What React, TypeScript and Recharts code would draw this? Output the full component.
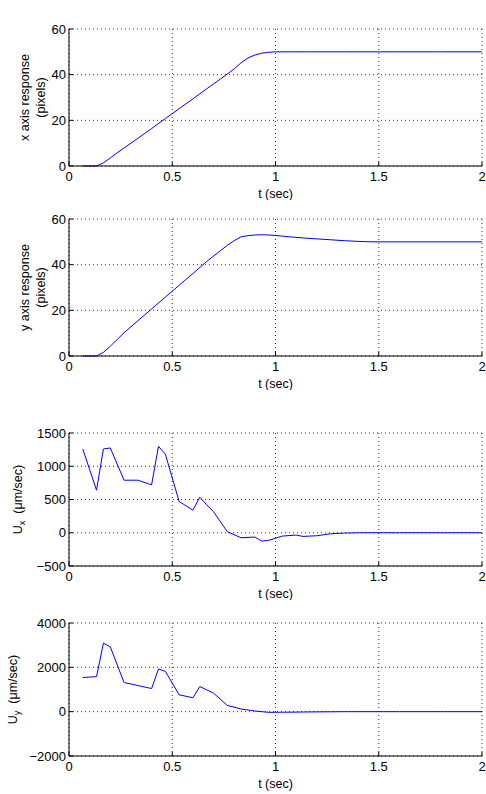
import { ReactNode } from 'react';
import { CartesianGrid, Label, Line, LineChart, XAxis, YAxis } from 'recharts';

const timeTicks = [0, 0.5, 1, 1.5, 2];
const positionTicks = [0, 20, 40, 60];
const uxTicks = [-500, 0, 500, 1000, 1500];
const uyTicks = [-2000, 0, 2000, 4000];

// step response of the stage, pixels
const positionTime = [0.0667, 0.1333, 0.1667, 0.2, 0.2333, 0.2667, 0.3333, 0.4, 0.4667, 0.5333,
  0.6, 0.6667, 0.7333, 0.7667, 0.8, 0.8333, 0.8667, 0.9, 0.9333, 0.9667,
  1.0, 1.0667, 1.1333, 1.2, 1.2667, 1.3333, 1.4, 1.4667, 1.6, 1.8, 2.0];
const xResponse = [0, 0, 1.4, 3.5, 5.8, 7.9, 12.1, 16.4, 20.8, 25.1,
  29.4, 33.8, 38.1, 40.3, 42.5, 45.2, 47.3, 48.6, 49.4, 49.8,
  50, 50, 50, 50, 50, 50, 50, 50, 50, 50, 50];
const yResponse = [0, 0, 1.6, 4.3, 7.2, 10.2, 15.4, 20.6, 25.8, 31.0,
  36.1, 41.4, 46.1, 48.5, 50.5, 52.2, 52.7, 53.0, 53.1, 53.0,
  52.8, 52.2, 51.7, 51.3, 50.9, 50.5, 50.2, 50.0, 50, 50, 50];

// control signals, um/sec
const controlTime = [0.0667, 0.1333, 0.1667, 0.2, 0.2667, 0.3333, 0.4, 0.4333, 0.4667, 0.5333,
  0.6, 0.6333, 0.6667, 0.7, 0.7667, 0.8333, 0.9, 0.9333, 0.9667, 1.0333,
  1.1, 1.1333, 1.2, 1.2667, 1.3333, 1.4, 1.6, 1.8, 2.0];
const uxSignal = [1260, 640, 1260, 1275, 790, 790, 720, 1300, 1180, 470,
  340, 535, 420, 316, 15, -75, -65, -125, -115, -50,
  -35, -55, -45, -15, -5, 0, 0, 0, 0];
const uySignal = [1540, 1580, 3090, 2925, 1312, 1180, 1043, 1925, 1820, 760,
  627, 1133, 985, 835, 282, 120, 30, 0, -30, -25,
  -20, -15, -10, -5, 0, 0, 0, 0, 0];

const FONT = '"Liberation Sans", Arial, Helvetica, sans-serif';
const FS = 12.5;
const TICK_FS = 13;
const PLOT_LEFT = 69;
const PLOT_RIGHT = 482;
const W = 486;

const rows = (t: number[], v: number[]) => t.map((x, i) => ({ t: x, v: v[i] }));
const minus = (v: number) => String(v).replace('-', '\u2212');
const blank = () => '';

type PanelProps = {
  top: number;
  height: number;
  plotTop: number;
  plotBottom: number;
  data: { t: number; v: number }[];
  yDomain: [number, number];
  yTicks: number[];
  title?: string;
  yLabel: (cy: number) => ReactNode;
};

const Panel = ({ top, height, plotTop, plotBottom, data, yDomain, yTicks, title, yLabel }: PanelProps) => {
  const pTop = plotTop - top;
  const pBottom = plotBottom - top;
  const cx = (PLOT_LEFT + PLOT_RIGHT) / 2;
  const cy = (pTop + pBottom) / 2;
  return (
    <div style={{ position: 'absolute', left: 0, top }}>
      <LineChart
        width={W}
        height={height}
        data={data}
        margin={{ top: pTop, right: W - PLOT_RIGHT, bottom: height - pBottom - 30, left: 0 }}
      >
        <CartesianGrid xAxisId="b" yAxisId="l" stroke="#333" strokeDasharray="1 3" />
        <XAxis
          xAxisId="b"
          dataKey="t"
          type="number"
          domain={[0, 2]}
          ticks={timeTicks}
          height={30}
          tickSize={-4}
          tickMargin={10}
          axisLine={{ stroke: '#000' }}
          tickLine={{ stroke: '#000' }}
          tick={{ fontSize: TICK_FS, fill: '#000' }}
        >
          <Label
            content={() => (
              <text x={cx} y={pBottom + 31.5} textAnchor="middle" fontSize={FS} fill="#000">t (sec)</text>
            )}
          />
        </XAxis>
        <XAxis
          xAxisId="t"
          orientation="top"
          type="number"
          domain={[0, 2]}
          ticks={timeTicks}
          height={0}
          tickSize={-4}
          tickFormatter={blank}
          axisLine={{ stroke: '#000' }}
          tickLine={{ stroke: '#000' }}
        >
          {title && (
            <Label
              content={() => (
                <text x={cx} y={pTop - 9.5} textAnchor="middle" fontSize={FS} fill="#000">{title}</text>
              )}
            />
          )}
        </XAxis>
        <YAxis
          yAxisId="l"
          type="number"
          domain={yDomain}
          ticks={yTicks}
          width={PLOT_LEFT}
          tickSize={-4}
          tickMargin={7}
          tickFormatter={minus}
          axisLine={{ stroke: '#000' }}
          tickLine={{ stroke: '#000' }}
          tick={{ fontSize: TICK_FS, fill: '#000' }}
        >
          <Label content={() => yLabel(cy)} />
        </YAxis>
        <YAxis
          yAxisId="r"
          orientation="right"
          type="number"
          domain={yDomain}
          ticks={yTicks}
          width={0}
          tickSize={-4}
          tickFormatter={blank}
          axisLine={{ stroke: '#000' }}
          tickLine={{ stroke: '#000' }}
        />
        <Line
          xAxisId="b"
          yAxisId="l"
          type="linear"
          dataKey="v"
          stroke="#0000ff"
          strokeWidth={1}
          dot={false}
          isAnimationActive={false}
        />
      </LineChart>
    </div>
  );
};

const twoLine = (a: string, b: string) => (cy: number) => (
  <g fontSize={FS} fill="#000">
    <text x={28.5} y={cy} transform={`rotate(-90 28.5 ${cy})`} textAnchor="middle">{a}</text>
    <text x={44.5} y={cy} transform={`rotate(-90 44.5 ${cy})`} textAnchor="middle">{b}</text>
  </g>
);

const uLabel = (sub: string, bx: number) => (cy: number) => (
  <text x={bx} y={cy} transform={`rotate(-90 ${bx} ${cy})`} textAnchor="middle" fontSize={FS} fill="#000">
    <tspan>U</tspan>
    <tspan dy={3} fontSize={9}>{sub}</tspan>
    <tspan dy={-3} dx={7}>(μm/sec)</tspan>
  </text>
);

export default function App() {
  return (
    <div
      style={{
        position: 'absolute',
        left: 0,
        top: 0,
        width: W,
        height: 794,
        background: '#fff',
        fontFamily: FONT,
      }}
    >
      <Panel
        top={0}
        height={200}
        plotTop={29}
        plotBottom={166}
        data={rows(positionTime, xResponse)}
        yDomain={[0, 60]}
        yTicks={positionTicks}
        title="Micropositioning"
        yLabel={twoLine('x axis response', '(pixels)')}
      />
      <Panel
        top={200}
        height={190}
        plotTop={219}
        plotBottom={356}
        data={rows(positionTime, yResponse)}
        yDomain={[0, 60]}
        yTicks={positionTicks}
        yLabel={twoLine('y axis response', '(pixels)')}
      />
      <Panel
        top={390}
        height={210}
        plotTop={433}
        plotBottom={566}
        data={rows(controlTime, uxSignal)}
        yDomain={[-500, 1500]}
        yTicks={uxTicks}
        title="Control signal vs time for x\u2212axis motion"
        yLabel={uLabel('x', 21.5)}
      />
      <Panel
        top={600}
        height={194}
        plotTop={623}
        plotBottom={756}
        data={rows(controlTime, uySignal)}
        yDomain={[-2000, 4000]}
        yTicks={uyTicks}
        title="Control signal vs time for y\u2212axis motion"
        yLabel={uLabel('y', 17)}
      />
    </div>
  );
}
